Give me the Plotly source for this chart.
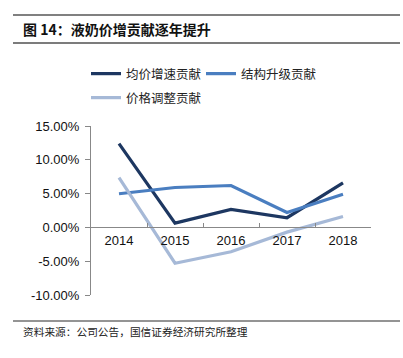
import plotly.graph_objects as go

years = ["2014", "2015", "2016", "2017", "2018"]
avg_price = [12.4, 0.64, 2.66, 1.43, 6.6]
structure = [4.98, 5.9, 6.2, 2.2, 4.9]
price_adj = [7.35, -5.3, -3.6, -0.7, 1.6]
series_names = ["均价增速贡献", "结构升级贡献", "价格调整贡献"]
series_colors = ["#1d3761", "#4a7ec0", "#a6b9d7"]
y_tickvals = [-10, -5, 0, 5, 10, 15]
y_ticktext = ["-10.00%", "-5.00%", "0.00%", "5.00%", "10.00%", "15.00%"]

title_text = "<b>图 14：液奶价增贡献逐年提升</b>"
source_text = "资料来源：公司公告，国信证券经济研究所整理"

CJK = "Noto Sans CJK SC"
LAT = "Liberation Sans, Arial"

fig = go.Figure()
for name, vals, col, lg in zip(series_names, [avg_price, structure, price_adj], series_colors,
                               ["legend", "legend", "legend2"]):
    fig.add_trace(go.Scatter(x=years, y=vals, mode="lines", name=name,
                             line=dict(color=col, width=3.2), legend=lg))

W, H = 403, 358
L, R, T, B = 91, 32, 126, 63

def px_y(py):
    return 1 - (py - T) / (H - T - B)

def px_x(px):
    return (px - L) / (W - L - R)

leg_common = dict(orientation="h", xanchor="left", yanchor="middle",
                  font=dict(family=CJK, size=12.5, color="#222"),
                  itemwidth=30, bgcolor="rgba(0,0,0,0)", borderwidth=0,
                  entrywidth=70, entrywidthmode="pixels")

fig.update_layout(
    width=W, height=H,
    margin=dict(l=L, r=R, t=T, b=B, autoexpand=False),
    paper_bgcolor="white", plot_bgcolor="white",
    showlegend=True,
    legend=dict(x=px_x(86), y=px_y(74), **leg_common),
    legend2=dict(x=px_x(86), y=px_y(98), **leg_common),
    xaxis=dict(type="category", anchor="free", position=0.4, showline=True, linecolor="#888",
               linewidth=1, ticks="inside", tickson="boundaries", ticklen=4, tickcolor="#888",
               showgrid=False, zeroline=False, ticklabelstandoff=1,
               tickfont=dict(family=LAT, size=13, color="#111"), range=[-0.5, 4.5]),
    yaxis=dict(range=[-10, 15], tickvals=y_tickvals, ticktext=y_ticktext, showline=True,
               linecolor="#888", linewidth=1, ticks="outside", ticklen=5, tickcolor="#888",
               showgrid=False, zeroline=False, ticklabelstandoff=3,
               tickfont=dict(family=LAT, size=13, color="#111")),
)

for y, w, c in [(15, 2, "#808080"), (43, 1.5, "#505050"), (321, 1.5, "#707070")]:
    fig.add_shape(type="line", xref="paper", yref="paper", x0=px_x(13), x1=px_x(400),
                  y0=px_y(y), y1=px_y(y), line=dict(color=c, width=w))

fig.add_annotation(text=title_text, xref="paper", yref="paper", x=px_x(21), y=px_y(29),
                   xanchor="left", yanchor="middle", showarrow=False,
                   font=dict(family=CJK, size=14, color="#111"))
fig.add_annotation(text=source_text, xref="paper", yref="paper", x=px_x(21), y=px_y(331),
                   xanchor="left", yanchor="middle", showarrow=False,
                   font=dict(family=CJK, size=10.7, color="#222"))

fig.write_html("out.html", config={"displayModeBar": False},
               post_script="document.body.style.margin='0';")
